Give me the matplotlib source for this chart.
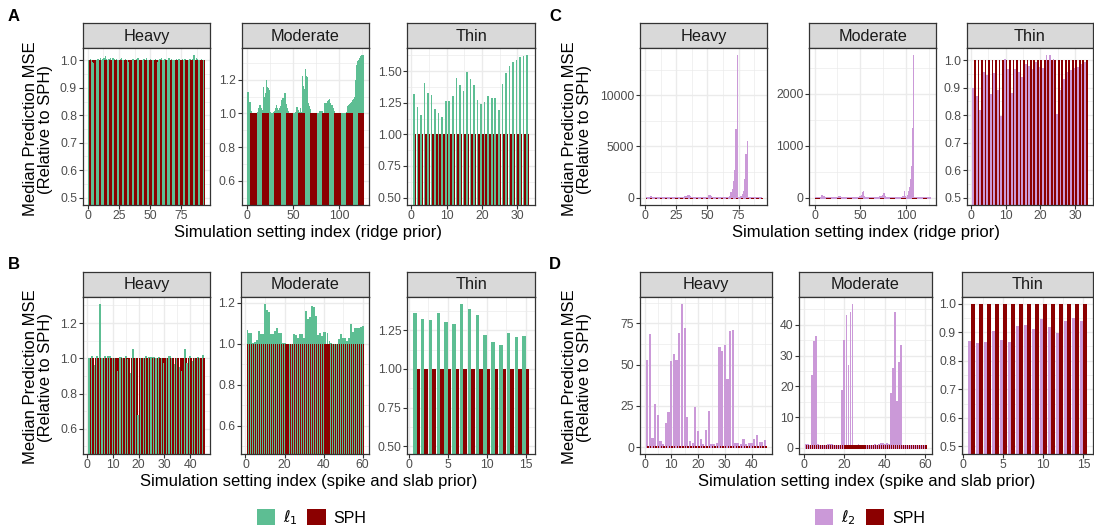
import numpy as np
import matplotlib
matplotlib.use("Agg")
import matplotlib.pyplot as plt
from matplotlib.patches import Patch
from matplotlib.ticker import AutoMinorLocator, FormatStrFormatter

plt.rcParams['font.family'] = ['Liberation Sans', 'DejaVu Sans']

# ---- data: median prediction MSE relative to SPH (SPH itself is 1) ----
SPH_LEVEL = 1.0

# panel A: l1 vs SPH, ridge prior
ridge_heavy_l1 = [
    1.0, 1.005, 1.0, 0.995, 0.99, 0.985, 1.0, 1.005, 1.0, 1.01,
    1.0, 1.005, 1.01, 1.015, 1.005, 1.0, 1.005, 1.01, 1.0, 1.01,
    1.005, 1.0, 1.005, 1.0, 1.0, 1.005, 1.01, 1.0, 1.0, 1.005,
    1.0, 1.0, 0.995, 1.0, 1.0, 1.005, 1.0, 1.0, 1.005, 1.01,
    1.0, 1.0, 0.995, 1.0, 1.005, 1.0, 1.01, 1.0, 1.0, 1.005,
    1.0, 1.0, 1.0, 1.005, 1.0, 0.995, 1.0, 1.005, 1.01, 1.0,
    1.0, 1.005, 1.0, 1.0, 1.01, 1.0, 1.005, 1.0, 1.0, 1.0,
    1.005, 1.0, 1.005, 1.0, 1.0, 1.005, 1.0, 1.005, 1.0, 1.0,
    1.0, 1.005, 1.0, 1.005, 1.018, 1.0, 1.01, 1.005, 1.0, 1.0,
    1.005, 1.0, 1.0]
ridge_moderate_l1 = [
    1.13, 1.05, 1.07, 1.04, 1.015, 1.005, 1.0, 1.0, 1.0, 1.0,
    1.005, 1.01, 1.03, 1.05, 1.03, 1.02, 1.02, 1.16, 1.10, 1.12,
    1.20, 1.155, 1.15, 1.14, 1.01, 1.005, 1.0, 1.0, 1.01, 1.015,
    1.03, 1.05, 1.03, 1.02, 1.03, 1.045, 1.07, 1.08, 1.09, 1.065,
    1.12, 1.055, 1.045, 1.035, 1.015, 1.005, 1.0, 1.0, 1.0, 1.0,
    1.0, 1.005, 1.01, 1.04, 1.02, 1.015, 1.01, 1.03, 1.01, 1.22,
    1.165, 1.145, 1.265, 1.22, 1.215, 1.06, 1.045, 1.025, 1.01, 1.0,
    0.995, 0.99, 0.995, 1.0, 1.0, 1.0, 1.0, 1.005, 1.015, 1.01,
    1.015, 1.005, 1.0, 1.065, 1.06, 1.06, 1.075, 1.08, 1.085, 1.065,
    1.04, 1.05, 1.03, 1.015, 1.005, 1.0, 1.0, 1.0, 1.0, 1.0,
    1.0, 1.0, 1.0, 1.0, 1.0, 1.0, 1.005, 1.01, 1.045, 1.05,
    1.055, 1.065, 1.07, 1.08, 1.075, 1.085, 1.10, 1.20, 1.29, 1.31,
    1.32, 1.33, 1.34, 1.345, 1.345, 1.345]
ridge_thin_l1 = [
    1.32, 1.214, 1.156, 1.406, 1.326, 1.313, 1.203, 1.172, 1.138, 1.268,
    1.268, 1.30, 1.445, 1.39, 1.346, 1.49, 1.435, 1.39, 1.273, 1.242,
    1.253, 1.305, 1.289, 1.289, 1.195, 1.398, 1.484, 1.539, 1.576, 1.591,
    1.609, 1.617, 1.625]

# panel B: l1 vs SPH, spike and slab prior
spike_heavy_l1 = [
    1.0, 1.01, 0.96, 1.01, 1.31, 1.0, 1.01, 1.01, 1.01, 1.0,
    1.0, 0.925, 1.005, 1.0, 1.01, 0.995, 0.915, 1.05, 1.0, 0.68,
    1.0, 1.0, 1.015, 1.005, 1.005, 1.005, 1.0, 1.005, 1.0, 0.975,
    1.0, 1.01, 1.0, 0.97, 1.0, 0.95, 0.925, 1.055, 0.975, 1.015,
    0.985, 1.0, 1.005, 1.0, 1.02]
spike_moderate_l1 = [
    1.069, 1.05, 1.05, 1.005, 1.008, 1.016, 1.064, 1.045, 1.045, 1.195,
    1.165, 1.155, 1.045, 1.045, 1.064, 1.074, 1.051, 1.054, 1.005, 1.005,
    1.0, 1.0, 1.0, 1.0, 1.045, 1.04, 1.03, 1.045, 1.045, 1.026,
    1.16, 1.122, 1.131, 1.184, 1.179, 1.136, 1.04, 1.05, 1.035, 1.059,
    1.059, 1.054, 1.011, 1.005, 1.0, 1.0, 1.0, 1.021, 1.045, 1.026,
    1.026, 1.011, 1.026, 1.098, 1.059, 1.074, 1.074, 1.074, 1.083, 1.085]
spike_thin_l1 = [
    1.359, 1.322, 1.315, 1.361, 1.302, 1.291, 1.422, 1.387, 1.348, 1.217,
    1.172, 1.152, 1.23, 1.204, 1.211]

# panel C: l2 vs SPH, ridge prior
ridge_heavy_l2 = [
    30, 40, 60, 150, 200, 100, 40, 30, 20, 30,
    40, 20, 30, 50, 30, 20, 40, 30, 20, 30,
    60, 40, 30, 20, 30, 40, 50, 30, 60, 80,
    90, 120, 200, 300, 300, 150, 80, 60, 40, 30,
    40, 30, 50, 40, 30, 60, 40, 30, 60, 100,
    250, 300, 200, 80, 40, 30, 60, 50, 40, 30,
    40, 60, 50, 40, 60, 80, 100, 150, 500, 800,
    1600, 2700, 6700, 13900, 100, 60, 190, 350, 610, 1800,
    4300, 5500, 60, 40, 30, 40, 30, 50, 40, 30,
    40, 30, 40]
ridge_moderate_l2 = [
    5, 8, 10, 12, 15, 20, 40, 45, 40, 30,
    15, 10, 8, 10, 12, 10, 8, 6, 10, 12,
    10, 8, 12, 15, 20, 25, 40, 35, 20, 10,
    8, 6, 5, 8, 10, 6, 5, 8, 10, 6,
    8, 10, 12, 15, 10, 12, 15, 20, 25, 40,
    60, 100, 120, 30, 15, 10, 8, 10, 12, 10,
    8, 10, 12, 8, 10, 15, 12, 10, 15, 20,
    25, 30, 40, 60, 90, 90, 30, 15, 10, 8,
    10, 12, 8, 10, 8, 6, 8, 10, 12, 10,
    8, 10, 12, 15, 20, 25, 30, 120, 30, 20,
    40, 60, 120, 200, 350, 600, 1350, 2740, 20, 10,
    8, 10, 12, 8, 6, 8, 10, 12, 10, 8,
    10, 12, 8, 6, 8, 10]
ridge_thin_l2 = [
    0.90, 0.869, 0.818, 0.957, 0.945, 0.876, 0.953, 0.891, 0.797, 1.005,
    0.966, 0.879, 0.969, 0.957, 0.939, 0.984, 0.98, 0.969, 0.993, 0.975,
    0.972, 1.017, 1.017, 1.005, 0.804, 0.891, 0.93, 0.957, 0.965, 0.97,
    0.975, 0.984, 0.993]

# panel D: l2 vs SPH, spike and slab prior
spike_heavy_l2 = [
    52.6, 68.9, 5.4, 26.1, 19.5, 3.8, 2.0, 14.7, 21.3, 52.0,
    56.2, 52.6, 69.5, 87.0, 72.5, 18.3, 3.8, 2.6, 24.3, 9.8,
    5.0, 2.0, 10.4, 21.9, 2.0, 2.0, 2.6, 61.0, 58.0, 62.2,
    41.2, 70.7, 71.3, 2.6, 2.6, 2.0, 5.0, 2.0, 2.6, 2.6,
    5.0, 7.4, 3.2, 3.2, 4.4]
spike_moderate_l2 = [
    1.3, 1.3, 1.1, 23.8, 34.8, 36.4, 1.2, 1.0, 1.1, 0.9,
    1.0, 1.2, 1.4, 1.2, 1.0, 1.1, 0.9, 1.0, 18.9, 35.1,
    43.2, 27.0, 44.3, 46.9, 1.1, 1.0, 1.2, 0.9, 1.0, 1.1,
    1.0, 0.9, 1.0, 1.1, 1.2, 1.0, 1.3, 1.7, 1.5, 1.4,
    1.5, 1.2, 18.0, 26.1, 44.3, 15.3, 27.8, 33.5, 1.1, 1.0,
    0.9, 1.0, 1.1, 1.0, 0.9, 1.0, 1.1, 1.0, 0.9, 1.0]
spike_thin_l2 = [
    0.868, 0.861, 0.865, 0.903, 0.872, 0.865, 0.921, 0.924, 0.91, 0.945,
    0.917, 0.896, 0.938, 0.949, 0.938]

facet_titles = ["Heavy", "Moderate", "Thin"]
ridge_xticks = [[0, 25, 50, 75], [0, 50, 100], [0, 10, 20, 30]]
spike_xticks = [[0, 10, 20, 30, 40], [0, 20, 40, 60], [0, 5, 10, 15]]

# ---- styling ----
GREEN = '#5DBE93'
PURPLE = '#CB99D8'
SPH_RED = '#8B0000'
STRIP_BG = '#D9D9D9'
BORDER = '#333333'
GRID = '#EBEBEB'

W, H = 1094, 528
fig = plt.figure(figsize=(W / 100, H / 100), dpi=100)


def add_px_axes(x0, x1, ytop, ybot):
    return fig.add_axes([x0 / W, 1 - ybot / H, (x1 - x0) / W, (ybot - ytop) / H])


def draw_facet(xs, rows, title, vals, color, xticks, yticks, yfmt, edge=0.4):
    x0, x1 = xs
    top, mid, bottom = rows
    sax = add_px_axes(x0, x1, top, mid)
    sax.set_facecolor(STRIP_BG)
    sax.set_xticks([])
    sax.set_yticks([])
    for s in sax.spines.values():
        s.set_color(BORDER)
        s.set_linewidth(0.9)
    sax.text(0.5, 0.47, title, ha='center', va='center', fontsize=11.7,
             color='#1A1A1A', transform=sax.transAxes)

    ax = add_px_axes(x0, x1, mid, bottom)
    n = len(vals)
    idx = np.arange(1, n + 1)
    # dodged pairs drawn one pair at a time (method left, SPH right)
    pos = np.column_stack([idx - 0.225, idx + 0.225]).ravel()
    hts = np.column_stack([vals, np.full(n, SPH_LEVEL)]).ravel()
    cols = [color, SPH_RED] * n
    ax.bar(pos, hts, width=0.45, color=cols, edgecolor=cols,
           linewidth=edge, antialiased=False, zorder=2)

    lo, hi = 0.55, n + 0.45
    pad = 0.05 * (hi - lo)
    ax.set_xlim(lo - pad, hi + pad)
    ylo, yhi = 0.5, max(max(vals), SPH_LEVEL)
    ypad = 0.05 * (yhi - ylo)
    ax.set_ylim(ylo - ypad, yhi + ypad)

    ax.set_xticks(xticks)
    ax.set_yticks(yticks)
    ax.yaxis.set_major_formatter(FormatStrFormatter(yfmt))
    ax.xaxis.set_minor_locator(AutoMinorLocator(2))
    ax.yaxis.set_minor_locator(AutoMinorLocator(2))
    ax.grid(which='major', color=GRID, linewidth=1.0, zorder=0)
    ax.grid(which='minor', color=GRID, linewidth=0.5, zorder=0)
    ax.set_axisbelow(True)
    ax.tick_params(which='major', length=2.6, width=0.8, color=BORDER,
                   labelsize=8.8, labelcolor='#4D4D4D', pad=1.5)
    ax.tick_params(which='minor', length=0)
    for s in ax.spines.values():
        s.set_color(BORDER)
        s.set_linewidth(0.9)
    return ax


row1 = (23, 48.3, 204.7)
row2 = (272, 296.5, 453.5)

colsA = [(82.7, 210), (241.5, 369.3), (407.3, 535.3)]
colsB = [(82.7, 210), (240.7, 369.3), (407.3, 535.3)]
colsC = [(640, 767.3), (809.3, 936), (966.7, 1093.3)]
colsD = [(640, 772.3), (799.3, 931.7), (961.7, 1093)]

# A
draw_facet(colsA[0], row1, facet_titles[0], ridge_heavy_l1, GREEN, ridge_xticks[0],
           [0.5, 0.6, 0.7, 0.8, 0.9, 1.0], '%.1f')
draw_facet(colsA[1], row1, facet_titles[1], ridge_moderate_l1, GREEN, ridge_xticks[1],
           [0.6, 0.8, 1.0, 1.2], '%.1f')
draw_facet(colsA[2], row1, facet_titles[2], ridge_thin_l1, GREEN, ridge_xticks[2],
           [0.5, 0.75, 1.0, 1.25, 1.5], '%.2f', edge=0)
# B
draw_facet(colsB[0], row2, facet_titles[0], spike_heavy_l1, GREEN, spike_xticks[0],
           [0.6, 0.8, 1.0, 1.2], '%.1f')
draw_facet(colsB[1], row2, facet_titles[1], spike_moderate_l1, GREEN, spike_xticks[1],
           [0.6, 0.8, 1.0, 1.2], '%.1f')
draw_facet(colsB[2], row2, facet_titles[2], spike_thin_l1, GREEN, spike_xticks[2],
           [0.5, 0.75, 1.0, 1.25], '%.2f', edge=0)
# C
draw_facet(colsC[0], row1, facet_titles[0], ridge_heavy_l2, PURPLE, ridge_xticks[0],
           [0, 5000, 10000], '%d', edge=0.7)
draw_facet(colsC[1], row1, facet_titles[1], ridge_moderate_l2, PURPLE, ridge_xticks[1],
           [0, 1000, 2000], '%d', edge=0.7)
draw_facet(colsC[2], row1, facet_titles[2], ridge_thin_l2, PURPLE, ridge_xticks[2],
           [0.5, 0.6, 0.7, 0.8, 0.9, 1.0], '%.1f', edge=0)
# D
draw_facet(colsD[0], row2, facet_titles[0], spike_heavy_l2, PURPLE, spike_xticks[0],
           [0, 25, 50, 75], '%d')
draw_facet(colsD[1], row2, facet_titles[1], spike_moderate_l2, PURPLE, spike_xticks[1],
           [0, 10, 20, 30, 40], '%d')
draw_facet(colsD[2], row2, facet_titles[2], spike_thin_l2, PURPLE, spike_xticks[2],
           [0.5, 0.6, 0.7, 0.8, 0.9, 1.0], '%.1f', edge=0)

# panel letters
for letter, x, y in [('A', 8, 21), ('B', 8, 269), ('C', 549, 21), ('D', 549, 269)]:
    fig.text(x / W, 1 - y / H, letter, fontsize=12, fontweight='bold', va='baseline')

# axis titles
ylab = "Median Prediction MSE\n(Relative to SPH)"
for x, y in [(38, 129), (38, 377), (577, 129), (577, 377)]:
    fig.text(x / W, 1 - y / H, ylab, rotation=90, ha='center', va='center',
             multialignment='center', fontsize=12, linespacing=1.0)
for x, y, lab in [(308.5, 237.5, "Simulation setting index (ridge prior)"),
                  (866.5, 237.5, "Simulation setting index (ridge prior)"),
                  (308.5, 486, "Simulation setting index (spike and slab prior)"),
                  (866.5, 486, "Simulation setting index (spike and slab prior)")]:
    fig.text(x / W, 1 - y / H, lab, ha='center', va='baseline', fontsize=12)

# legends
for col, lab, cx in [(GREEN, r'$\ell_1$', 311.5), (PURPLE, r'$\ell_2$', 870)]:
    handles = [Patch(facecolor=col, label=lab), Patch(facecolor=SPH_RED, label='SPH')]
    fig.legend(handles=handles, ncol=2, frameon=False, loc='center',
               bbox_to_anchor=(cx / W, 1 - 518 / H), fontsize=11.5,
               handlelength=1.15, handleheight=1.15, handletextpad=0.5,
               columnspacing=0.6, borderpad=0, borderaxespad=0)

fig.savefig('out.png', dpi=100)
